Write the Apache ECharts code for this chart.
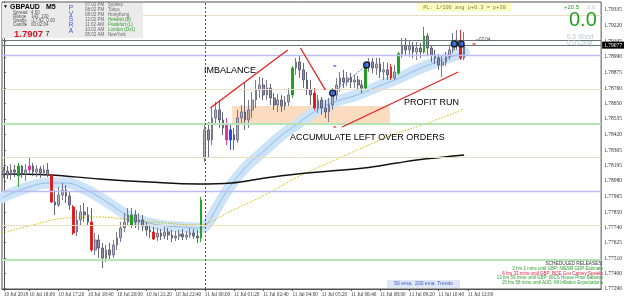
<!DOCTYPE html>
<html>
<head>
<meta charset="utf-8">
<script src="https://cdn.jsdelivr.net/npm/echarts@6/dist/echarts.min.js"></script>
<style>
  html, body { margin: 0; padding: 0; background: #fff; }
  #main { width: 625px; height: 299px; }
</style>
</head>
<body>
<div id="main"></div>
<script>
// GBPAUD, 10 minute bars from 10 Jul 14:50 to 11 Jul 11:50
var barStart = Date.UTC(2018, 6, 10, 14, 50),
    barMinutes = 10,
    slotCount = 164;   // chart keeps an empty shift area on the right

var firstTickLabel = '10 Jul 2018';
var xTickLabels = ['10 Jul 16:00', '10 Jul 17:20', '10 Jul 18:40', '10 Jul 20:00', '10 Jul 21:20', '10 Jul 22:40',
  '11 Jul 00:00', '11 Jul 01:20', '11 Jul 02:40', '11 Jul 04:00', '11 Jul 05:20', '11 Jul 06:40',
  '11 Jul 08:00', '11 Jul 09:20', '11 Jul 10:40', '11 Jul 12:00'];

var yTicks = [1.77290, 1.77400, 1.77510, 1.77625, 1.77740, 1.77850, 1.77965, 1.78080, 1.78195, 1.78305,
  1.78420, 1.78535, 1.78650, 1.78760, 1.78875, 1.78990, 1.79105, 1.79220, 1.79335];
var yMin = 1.77285, yMax = 1.79394;

// open, close, low, high
var ohlc = [
  [1.78130,1.78152,1.78101,1.78182],[1.78152,1.78123,1.78093,1.78189],[1.78123,1.78160,1.78086,1.78204],
  [1.78160,1.78145,1.78108,1.78196],[1.78115,1.78189,1.78035,1.78211],[1.78189,1.78130,1.78101,1.78196],
  [1.78130,1.78160,1.78079,1.78204],[1.78160,1.78189,1.78137,1.78255],[1.78189,1.78145,1.78115,1.78211],
  [1.78145,1.78167,1.78108,1.78196],[1.78167,1.78137,1.78101,1.78189],[1.78137,1.78160,1.78115,1.78196],
  [1.78160,1.78123,1.78108,1.78211],[1.78123,1.77924,1.77917,1.78130],[1.77924,1.77902,1.77829,1.78012],
  [1.77902,1.77976,1.77888,1.78035],[1.77976,1.78012,1.77939,1.78064],[1.78012,1.77968,1.77917,1.78049],
  [1.77968,1.77902,1.77866,1.77998],[1.77888,1.77696,1.77682,1.77902],[1.77704,1.77792,1.77674,1.77866],
  [1.77792,1.77851,1.77755,1.77902],[1.77851,1.77829,1.77777,1.77917],[1.77829,1.77777,1.77748,1.77888],
  [1.77777,1.77572,1.77557,1.77880],[1.77572,1.77645,1.77535,1.77696],[1.77645,1.77586,1.77513,1.77682],
  [1.77586,1.77513,1.77439,1.77623],[1.77513,1.77572,1.77483,1.77608],[1.77572,1.77535,1.77498,1.77623],
  [1.77535,1.77608,1.77513,1.77645],[1.77608,1.77660,1.77572,1.77704],[1.77660,1.77733,1.77630,1.77777],
  [1.77733,1.77777,1.77704,1.77843],[1.77777,1.77829,1.77748,1.77880],[1.77755,1.77829,1.77733,1.77880],
  [1.77829,1.77777,1.77733,1.77866],[1.77777,1.77792,1.77719,1.77843],[1.77792,1.77748,1.77711,1.77829],
  [1.77748,1.77719,1.77674,1.77777],[1.77719,1.77704,1.77660,1.77755],[1.77704,1.77652,1.77645,1.77741],
  [1.77667,1.77696,1.77638,1.77733],[1.77696,1.77674,1.77645,1.77726],[1.77674,1.77704,1.77652,1.77741],
  [1.77704,1.77682,1.77645,1.77733],[1.77682,1.77660,1.77630,1.77719],[1.77660,1.77674,1.77638,1.77711],
  [1.77674,1.77689,1.77645,1.77719],[1.77689,1.77667,1.77645,1.77726],[1.77667,1.77682,1.77645,1.77711],
  [1.77682,1.77696,1.77660,1.77733],[1.77696,1.77674,1.77652,1.77726],[1.77674,1.77660,1.77623,1.77719],
  [1.77660,1.77939,1.77630,1.77961],[1.78248,1.78454,1.78218,1.78505],[1.78454,1.78380,1.78248,1.78512],
  [1.78380,1.78542,1.78343,1.78615],[1.78542,1.78601,1.78490,1.78659],[1.78601,1.78527,1.78469,1.78674],
  [1.78527,1.78469,1.78417,1.78586],[1.78490,1.78380,1.78343,1.78542],[1.78380,1.78454,1.78307,1.78490],
  [1.78417,1.78380,1.78307,1.78469],[1.78380,1.78542,1.78358,1.78601],[1.78542,1.78586,1.78490,1.78637],
  [1.78586,1.78527,1.78454,1.78799],[1.78527,1.78601,1.78469,1.78674],[1.78601,1.78674,1.78542,1.78733],
  [1.78674,1.78748,1.78615,1.78821],[1.78748,1.78784,1.78689,1.78843],[1.78784,1.78711,1.78674,1.78836],
  [1.78711,1.78762,1.78674,1.78821],[1.78762,1.78689,1.78637,1.78792],[1.78689,1.78637,1.78601,1.78725],
  [1.78637,1.78674,1.78586,1.78718],[1.78674,1.78630,1.78586,1.78711],[1.78630,1.78659,1.78601,1.78703],
  [1.78659,1.78711,1.78630,1.78762],[1.78711,1.78909,1.78689,1.78924],[1.78909,1.78953,1.78858,1.78983],
  [1.78953,1.78895,1.78836,1.78998],[1.78895,1.78821,1.78762,1.78946],[1.78821,1.78748,1.78711,1.78880],
  [1.78748,1.78711,1.78637,1.78821],[1.78725,1.78615,1.78601,1.78762],[1.78615,1.78674,1.78579,1.78711],
  [1.78674,1.78615,1.78565,1.78696],[1.78615,1.78586,1.78542,1.78674],[1.78586,1.78637,1.78512,1.78689],
  [1.78637,1.78711,1.78601,1.78762],[1.78711,1.78784,1.78674,1.78836],[1.78784,1.78836,1.78733,1.78880],
  [1.78836,1.78806,1.78762,1.78895],[1.78806,1.78836,1.78777,1.78880],[1.78836,1.78806,1.78762,1.78872],
  [1.78806,1.78821,1.78762,1.78858],[1.78821,1.78784,1.78748,1.78850],[1.78784,1.78762,1.78725,1.78821],
  [1.78762,1.78924,1.78748,1.78946],[1.78924,1.78953,1.78880,1.78983],[1.78953,1.78909,1.78872,1.78983],
  [1.78909,1.78939,1.78858,1.78983],[1.78939,1.78880,1.78836,1.78983],[1.78880,1.78895,1.78821,1.78953],
  [1.78895,1.78858,1.78821,1.78946],[1.78917,1.78836,1.78821,1.78939],[1.78836,1.78880,1.78821,1.78931],
  [1.78872,1.79013,1.78858,1.79027],[1.79013,1.79078,1.78983,1.79130],[1.79078,1.79042,1.78998,1.79130],
  [1.79042,1.79071,1.78991,1.79115],[1.79071,1.79027,1.78983,1.79100],[1.79027,1.79056,1.78968,1.79100],
  [1.79056,1.79027,1.78983,1.79093],[1.79027,1.79144,1.79013,1.79211],[1.79144,1.79056,1.79005,1.79166],
  [1.79056,1.79005,1.78953,1.79078],[1.79005,1.78983,1.78939,1.79042],[1.78983,1.78931,1.78895,1.79013],
  [1.78931,1.78953,1.78843,1.78998],[1.78953,1.78991,1.78924,1.79027],[1.78991,1.79042,1.78968,1.79078],
  [1.79042,1.79086,1.79020,1.79166],[1.79086,1.79115,1.79042,1.79189],[1.79100,1.78983,1.78968,1.79189],
  [1.78983,1.79077,1.78968,1.79174]
];

// PVSRA volume classes of some bars (bar index -> class)
var climaxBars = {4: 'bull', 7: 'bearAvg', 13: 'bear', 19: 'bear', 24: 'bear', 35: 'bull', 41: 'bear', 54: 'bull',
  61: 'bearAvg', 62: 'bullAvg', 79: 'bull', 85: 'bear', 99: 'bull', 106: 'bear', 108: 'bull', 115: 'bull', 125: 'bear'};

// moving averages, [bar position, price]
var ema50 = [[-0.5,1.77954],[4.4,1.78012],[12.5,1.78064],[17.2,1.78064],[21.5,1.78027],[26.1,1.77961],[30.7,1.77880],
  [35.1,1.77807],[39.7,1.77770],[44.3,1.77748],[48.6,1.77741],[53.3,1.77733],[55.2,1.77748],[57.3,1.77836],
  [59.2,1.77924],[62.2,1.78049],[66.8,1.78196],[71.5,1.78307],[75.8,1.78409],[80.4,1.78498],[85.8,1.78601],
  [91.3,1.78667],[96.7,1.78711],[102.1,1.78770],[107.6,1.78828],[113.0,1.78895],[118.4,1.78953],[123.9,1.79005],
  [126,1.79027]];
var ema200 = [[-0.5,1.78130],[12.5,1.78123],[26.1,1.78093],[39.7,1.78071],[53.3,1.78057],[62.2,1.78064],
  [71.5,1.78101],[80.4,1.78130],[89.4,1.78152],[98.6,1.78174],[107.6,1.78211],[113,1.78233],[126,1.78270]];
var trendMa = [[-0.5,1.77696],[7.9,1.77755],[17.1,1.77807],[26.1,1.77814],[35.1,1.77792],[44.3,1.77770],
  [53.3,1.77755],[56,1.77770],[62.2,1.77858],[71.5,1.77976],[80.4,1.78108],[89.4,1.78218],[98.6,1.78329],
  [107.6,1.78431],[113,1.78476],[119,1.78534],[126,1.78608]];

// horizontal levels
var pivotLevels = [1.79299, 1.7875, 1.7825, 1.7775];
var wholeLevels = [1.7900, 1.7800];
var halfLevels = [1.7850, 1.7750];
var askPrice = 1.79115, bidPrice = 1.79077;
var dayStartBar = 55;

// drawn objects
var zoneBox = [[62.5, 1.78630], [105.7, 1.78505]];
var trendLines = [
  [[56.5, 1.78615], [77.7, 1.79042]],
  [[81.2, 1.79056], [88.0, 1.78748]],
  [[92.6, 1.78476], [124.4, 1.78880]]
];
var tradeEntries = [[90, 1.78725], [99.3, 1.78931], [123.3, 1.79086], [125.2, 1.79086]];
var tradeLink = [[90, 1.78725], [99.3, 1.78931]];
var stopMarks = [[90.6, 1.78476], [128.7, 1.79086]];
var targetMarks = [[90.6, 1.78924]];

var monthNames = ['Jan', 'Feb', 'Mar', 'Apr', 'May', 'Jun', 'Jul', 'Aug', 'Sep', 'Oct', 'Nov', 'Dec'];
var categories = [];
for (var i = 0; i < slotCount; i++) {
  var d = new Date(barStart + i * barMinutes * 60000);
  categories.push(d.getUTCDate() + ' ' + monthNames[d.getUTCMonth()] + ' ' +
    ('0' + d.getUTCHours()).slice(-2) + ':' + ('0' + d.getUTCMinutes()).slice(-2));
}

var climaxColors = {bull: '#1c9e1c', bear: '#e01818', bullAvg: '#2a3cf0', bearAvg: '#e0309c'};
var candleData = ohlc.map(function (v, idx) {
  var c = climaxColors[climaxBars[idx]];
  if (!c) return v;
  return {value: v, itemStyle: {color: c, color0: c, borderColor: c, borderColor0: c}};
});

let showTick = (idx, value) => idx === 0 || xTickLabels.indexOf(value) >= 0;

var levelLines = [];
pivotLevels.forEach(function (p) { levelLines.push({yAxis: p, lineStyle: {color: '#e8dcc2', width: 1, type: 'solid'}}); });
wholeLevels.forEach(function (p) { levelLines.push({yAxis: p, lineStyle: {color: '#bcbcf2', width: 1.3, type: 'solid'}}); });
halfLevels.forEach(function (p) { levelLines.push({yAxis: p, lineStyle: {color: '#b6e4b6', width: 2, type: 'solid'}}); });
levelLines.push({yAxis: askPrice, lineStyle: {color: '#66777a', width: 1, type: 'solid'}});
levelLines.push({yAxis: bidPrice, lineStyle: {color: '#66777a', width: 1, type: 'solid'},
  label: {show: true, position: 'end', distance: 1, formatter: bidPrice.toFixed(5), color: '#fff',
    backgroundColor: '#000', fontSize: 5.5, fontFamily: 'Liberation Sans Narrow', padding: [1, 2, 0, 2]}});
levelLines.push({xAxis: dayStartBar, lineStyle: {color: '#505050', width: 1, type: [2, 2]}});

function txt(x, y, text, size, color, extra) {
  extra = extra || {};
  return {
    type: 'text', x: x, y: y, z: 100,
    style: {
      text: text, fill: color,
      font: (extra.weight || 'normal') + ' ' + size + 'px ' + (extra.family || '"Liberation Sans"'),
      textAlign: extra.align || 'left', align: extra.align || 'left',
      textVerticalAlign: 'middle', verticalAlign: 'middle'
    }
  };
}

var graphics = [
  {type: 'rect', z: 99, shape: {x: 2, y: 3, width: 141, height: 35}, style: {fill: '#ebebeb'}},
  txt(3, 7, '▼', 5, '#000'),
  txt(10, 7, 'GBPAUD', 7, '#000', {weight: 'bold'}),
  txt(46, 7, 'M5', 7, '#000', {weight: 'bold'}),
  txt(13, 12.5, 'Spread', 4.5, '#555'), txt(31, 12.5, '4.50', 4.5, '#555'),
  txt(13, 16.5, 'Range', 4.5, '#555'), txt(31, 16.5, '143, 130', 4.5, '#555'),
  txt(13, 20.5, 'Swaps', 4.5, '#555'), txt(31, 20.5, '-17.42, 0.00', 4.5, '#555'),
  txt(13, 24.5, 'Candle', 4.5, '#555'), txt(31, 24.5, '00:02:04', 4.5, '#555'),
  txt(14, 34, '1.7907', 9.5, '#e0102a', {weight: 'bold'}),
  txt(45.5, 34.5, '7', 7, '#000'),
  txt(71, 8, 'P', 6.5, '#3555d5', {align: 'center'}),
  txt(71, 14, 'V', 6.5, '#3555d5', {align: 'center'}),
  txt(71, 19.5, 'S', 6.5, '#3555d5', {align: 'center'}),
  txt(71, 25, 'R', 6.5, '#3555d5', {align: 'center'}),
  txt(71, 31, 'A', 6.5, '#3555d5', {align: 'center'}),
  txt(85, 5, '07:02 PM', 4.5, '#666'), txt(108, 5, 'Sydney', 4.5, '#666'),
  txt(85, 10, '08:02 PM', 4.5, '#666'), txt(108, 10, 'Tokyo', 4.5, '#666'),
  txt(85, 15, '08:02 PM', 4.5, '#666'), txt(108, 15, 'HongKong', 4.5, '#666'),
  txt(85, 20, '12:02 PM', 4.5, '#666'), txt(108, 20, 'Helsinki (B)', 4.5, '#2c9c2c'),
  txt(85, 25, '11:02 AM', 4.5, '#666'), txt(108, 25, 'Frankfurt (L)', 4.5, '#2c9c2c'),
  txt(85, 30, '10:02 AM', 4.5, '#666'), txt(108, 30, 'London (Dx1)', 4.5, '#2c9c2c'),
  txt(85, 35, '05:02 AM', 4.5, '#666'), txt(108, 35, 'NewYork', 4.5, '#666'),

  {type: 'rect', z: 99, shape: {x: 417, y: 3, width: 95, height: 8.5}, style: {fill: '#ffffc4'}},
  txt(464.5, 7.3, 'PL: 1/100 avg p+0.3 = p+30', 5.3, '#7a7a3c', {align: 'center', family: '"Liberation Mono"'}),

  txt(564, 7, '+20.5', 6, '#2a9a2a'),
  txt(587, 7, '0.0', 6, '#b8c4d0'),
  txt(569, 20.5, '0.0', 20, '#22a022'),
  txt(567, 37, '0.0', 6.5, '#b8c4d0'), txt(578, 37, 'Short', 6.5, '#b8c4d0'),
  txt(567, 43.5, '0.0', 6.5, '#b8c4d0'), txt(578, 43.5, 'Long:', 6.5, '#b8c4d0'),

  txt(476, 39.5, '--02:04', 4.5, '#444'),

  txt(204, 71, 'IMBALANCE', 9, '#000'),
  txt(404, 103, 'PROFIT RUN', 9, '#000'),
  txt(290, 137.5, 'ACCUMULATE LEFT OVER ORDERS', 9, '#000'),

  txt(603, 263.3, 'SCHEDULED RELEASES:', 4.8, '#333', {align: 'right'}),
  txt(603, 268.8, '3 hrs 1 mins until GBP: NIESR GDP Estimate', 4.5, '#2c9c2c', {align: 'right'}),
  txt(603, 273.5, '6 hrs 33 mins until GBP: BOE Gov Carney Speaks', 4.5, '#e02040', {align: 'right'}),
  txt(603, 278, '13 hrs 59 mins until GBP: RICS House Price Balance', 4.5, '#2c9c2c', {align: 'right'}),
  txt(603, 282.5, '15 hrs 58 mins until AUD: MI Inflation Expectations', 4.5, '#2c9c2c', {align: 'right'}),

  {type: 'rect', z: 99, shape: {x: 387, y: 280, width: 73, height: 8}, style: {fill: '#dfe7f7'}},
  txt(423.5, 284, '50 ema,  200 ema  Trends', 5, '#3a58d0', {align: 'center'})
];

var myChart = echarts.init(document.getElementById('main'));

var option = {
  animation: false,
  backgroundColor: '#ffffff',
  grid: {left: 2, right: 19, top: 2, bottom: 10, show: true, borderColor: '#505050', borderWidth: 1, backgroundColor: '#ffffff'},
  xAxis: [
    {
      type: 'category', data: categories, boundaryGap: true,
      axisLine: {show: true, lineStyle: {color: '#505050'}},
      axisTick: {show: true, alignWithLabel: true, interval: showTick, length: 2, lineStyle: {color: '#505050'}},
      axisLabel: {
        interval: showTick, align: 'left', margin: 3, fontSize: 5.2,
        fontFamily: 'Liberation Sans Narrow', color: '#303030',
        formatter: (value, idx) => idx === 0 ? firstTickLabel : value
      },
      splitLine: {show: false}
    },
    {type: 'value', min: -0.5, max: slotCount - 0.5, show: false}
  ],
  yAxis: {
    type: 'value', position: 'right', min: yMin, max: yMax, scale: true,
    axisLine: {show: true, lineStyle: {color: '#505050'}},
    axisTick: {show: true, customValues: yTicks, length: 2, lineStyle: {color: '#505050'}},
    axisLabel: {
      customValues: yTicks, margin: 3, fontSize: 5.5, fontFamily: 'Liberation Sans Narrow', color: '#303030',
      formatter: v => v.toFixed(5)
    },
    splitLine: {show: false}
  },
  series: [
    {
      name: 'levels', type: 'line', xAxisIndex: 1, data: [], silent: true, z: 1,
      markArea: {silent: true, itemStyle: {color: '#fcdcc0'},
        data: [[{coord: zoneBox[0]}, {coord: zoneBox[1]}]]},
      markLine: {silent: true, precision: 5, symbol: ['none', 'none'], label: {show: false}, data: levelLines}
    },
    {
      name: 'band', type: 'line', xAxisIndex: 1, data: ema50, smooth: 0.4, showSymbol: false, silent: true, z: 2,
      lineStyle: {color: '#cde3f8', width: 11, cap: 'round', join: 'round'}
    },
    {
      name: 'ema50', type: 'line', xAxisIndex: 1, data: ema50, smooth: 0.4, showSymbol: false, silent: true, z: 2,
      lineStyle: {color: '#92bbe8', width: 1}
    },
    {
      name: 'trendMa', type: 'line', xAxisIndex: 1, data: trendMa, smooth: 0.4, showSymbol: false, silent: true, z: 2,
      lineStyle: {color: '#c9c200', width: 1, type: [1.5, 1.5]}
    },
    {
      name: 'ema200', type: 'line', xAxisIndex: 1, data: ema200, smooth: 0.4, showSymbol: false, silent: true, z: 2,
      lineStyle: {color: '#111111', width: 1.4}
    },
    {
      name: 'GBPAUD', type: 'candlestick', xAxisIndex: 0, data: candleData, barWidth: 2.2, z: 3,
      itemStyle: {color: '#b4b4bc', color0: '#9090a0', borderColor: '#6c6c86', borderColor0: '#56566e', borderWidth: 0.9}
    },
    {
      name: 'drawings', type: 'line', xAxisIndex: 1, data: [], silent: true, z: 4,
      markLine: {silent: true, precision: 5, symbol: ['none', 'none'], label: {show: false},
        lineStyle: {color: '#e81c1c', width: 1.2, type: 'solid'},
        data: trendLines.map(l => [{coord: l[0]}, {coord: l[1]}])}
    },
    {
      name: 'link', type: 'line', xAxisIndex: 1, data: tradeLink, showSymbol: false, silent: true, z: 4,
      lineStyle: {color: '#3c5ce0', width: 1, type: [1.5, 1.5]}
    },
    {
      name: 'entries', type: 'scatter', xAxisIndex: 1, data: tradeEntries, symbolSize: 6, silent: true, z: 5,
      itemStyle: {color: '#1a5fd8', borderColor: '#000', borderWidth: 1.3}
    },
    {
      name: 'stops', type: 'scatter', xAxisIndex: 1, data: stopMarks, symbol: 'rect', symbolSize: [3, 1.5], silent: true, z: 5,
      itemStyle: {color: '#e81c1c'}
    },
    {
      name: 'targets', type: 'scatter', xAxisIndex: 1, data: targetMarks, symbol: 'rect', symbolSize: [3, 1.5], silent: true, z: 5,
      itemStyle: {color: '#2a48e0'}
    }
  ],
  graphic: graphics
};

myChart.setOption(option);
</script>
</body>
</html>
